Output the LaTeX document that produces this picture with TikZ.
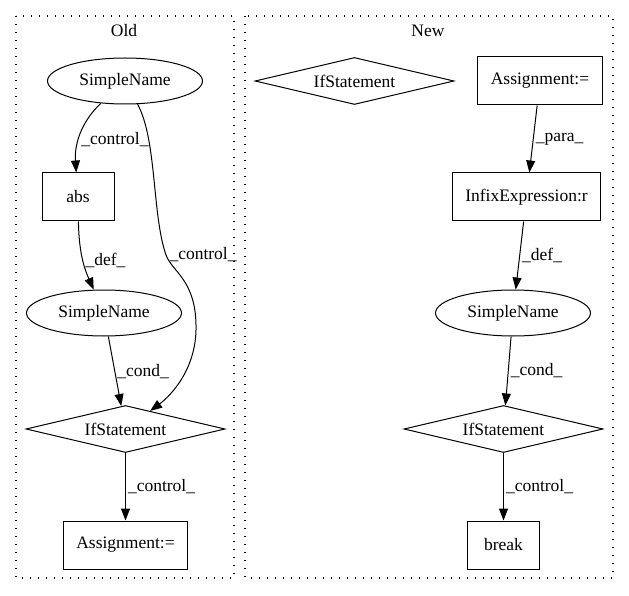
\documentclass[tikz,border=0pt]{standalone}
\usepackage{fontspec}
\setmainfont{Liberation Serif}
\usepackage{tikz}
\usetikzlibrary{positioning, shapes.geometric, arrows.meta}

\begin{document}
\begin{tikzpicture}[x=1pt, y=-1pt, node distance=116pt, line width=1pt,
  font=\fontsize{17.5}{21}\selectfont,
  >={Triangle[length=12pt,width=9pt]},
  name node/.style={ellipse,draw,minimum width=155pt,minimum height=46pt,inner sep=0pt},
  op node/.style={rectangle,draw,minimum width=72pt,minimum height=48pt,inner xsep=13pt},
  if node/.style={diamond,draw,aspect=4.2,minimum width=199pt,minimum height=47pt,inner sep=0pt},
  cluster/.style={line width=1.3pt, dash pattern=on 1.3pt off 6.7pt}]

\useasboundingbox (0,0) rectangle (629,596);

% clusters
\draw[cluster] (16,16) rectangle (234,578);
\draw[cluster] (245,16) rectangle (613,578);
\node (old) at (124,31) {Old};
\node (new) at (428,31) {New};

% old
\node[name node] (sn1) at (125,81) {SimpleName};
\node[op node] (abs) [below of=sn1, xshift=-47pt] {abs};
\node[name node] (sn2) [below of=abs, xshift=26pt] {SimpleName};
\node[if node] (if1) [below of=sn2, xshift=21.5pt] {IfStatement};
\node[op node] (as1) [below of=if1] {Assignment:=};

% new
\node[if node] (if2) at (354.5,81) {IfStatement};
\node[op node] (as2) at (540,81) {Assignment:=};
\node[op node] (ix) [below of=as2, xshift=-13.5pt] {InfixExpression:r};
\node[name node] (sn3) [below of=ix, xshift=-13.5pt] {SimpleName};
\node[if node] (if3) [below of=sn3, xshift=-9.5pt] {IfStatement};
\node[op node] (brk) [below of=if3] {break};

\draw[->] (sn1) .. controls (85,118) and (74,140) .. node[right, pos=0.62, inner sep=2pt] {\_control\_} (abs);
\draw[->] (sn1) .. controls (157,140) and (152,215) .. (166,255)
  node[right, inner sep=3pt] {\_control\_}
  .. controls (172,272) and (197,280) .. (196,330)
  .. controls (195,375) and (165,400) .. (if1);
\draw[->] (abs) .. controls (79,255) and (85,270) .. node[right, inner sep=2pt] {\_def\_} (sn2);

\path[->, every node/.style={right, inner sep=2pt}]
(sn2) edge node {\_cond\_} (if1)
(if1) edge node {\_control\_} (as1)
(as2) edge node {\_para\_} (ix)
(ix) edge node {\_def\_} (sn3)
(sn3) edge node {\_cond\_} (if3)
(if3) edge node {\_control\_} (brk)
;

\end{tikzpicture}
\end{document}
